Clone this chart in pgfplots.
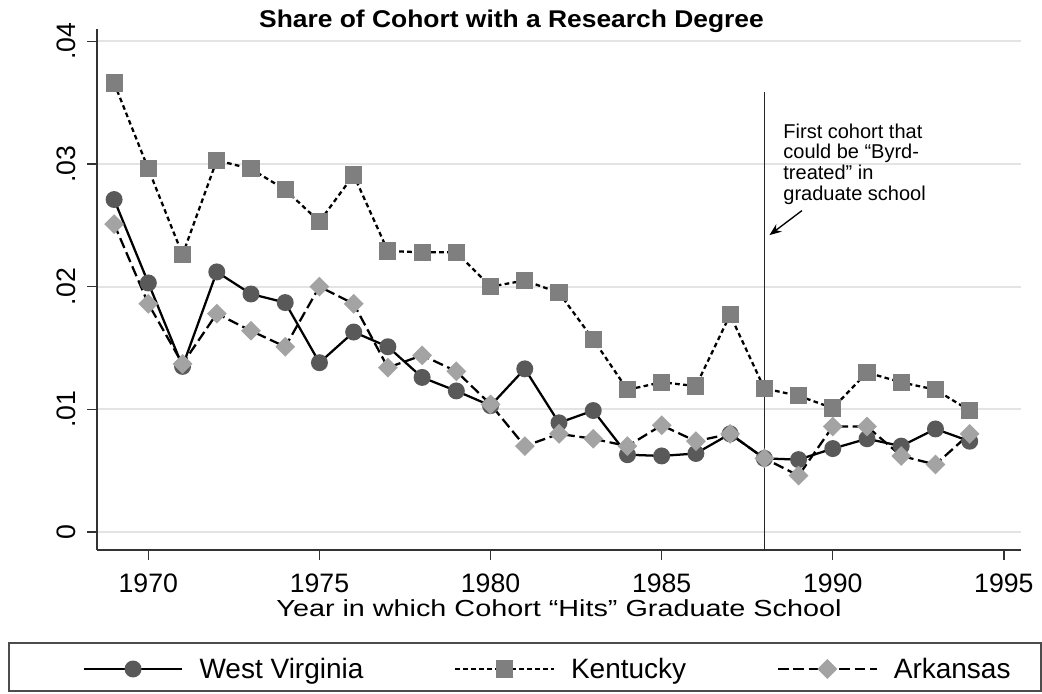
\documentclass[border=0pt]{standalone}
\usepackage{fontspec}
\setmainfont{Liberation Sans}
\usepackage{pgfplots}
\pgfplotsset{compat=1.18}
\usetikzlibrary{arrows.meta}

\definecolor{wvcol}{HTML}{595959}
\definecolor{kycol}{HTML}{7F7F7F}
\definecolor{arcol}{HTML}{A3A3A3}
\definecolor{gridcol}{HTML}{E4E4E4}

\begin{document}
\begin{tikzpicture}
\useasboundingbox (0,0) rectangle (781.5pt,519.75pt);
\begin{axis}[
    at={(72.75pt,107.25pt)}, anchor=south west,
    scale only axis, width=693pt, height=390.75pt,
    xmin=1968.5, xmax=1995.5,
    ymin=-0.001467, ymax=0.041,
    axis x line*=bottom, axis y line*=left,
    axis line style={line width=0.9pt, black!80},
    xtick={1970,1975,1980,1985,1990,1995},
    xticklabels={1970,1975,1980,1985,1990,1995},
    ytick={0,0.01,0.02,0.03,0.04},
    yticklabels={0,.01,.02,.03,.04},
    scaled y ticks=false,
    tick align=outside, major tick length=7.5pt,
    tick style={line width=0.9pt, black!80},
    ymajorgrids, grid style={gridcol, line width=1.5pt},
    xticklabel style={font=\fontsize{20}{24}\selectfont, anchor=base, inner sep=0pt, yshift=-24pt},
    yticklabel style={font=\fontsize{20}{24}\selectfont, rotate=90, anchor=base, inner sep=0pt},
    yticklabel shift=9pt,
    title={\scalebox{1.2}[1.1]{\bfseries\fontsize{16.5}{19}\selectfont Share of Cohort with a Research Degree}},
    title style={at={(axis description cs:0.4486,1.002)}, anchor=base, inner sep=0pt, yshift=-6pt},
    xlabel={\scalebox{1.3}[1.05]{Year in which Cohort “Hits” Graduate School}},
    xlabel style={at={(axis description cs:0.5,0)}, anchor=base, yshift=-49.5pt, inner sep=0pt, font=\fontsize{16.6}{19}\selectfont},
    legend columns=3,
    legend style={at={(axis description cs:0.488,-0.2284)}, anchor=center, draw=none, fill=none,
        font=\fontsize{21}{25}\selectfont,
        /tikz/every odd column/.append style={column sep=10pt},
        /tikz/every even column/.append style={column sep=66pt}},
    legend image code/.code={\draw[mark repeat=2,mark phase=2,#1] plot coordinates {(0pt,0pt) (37pt,0pt) (74pt,0pt)};},
    clip=false,
]

\addplot[black, line width=1.7pt, mark=*, mark size=5.5pt,
    mark options={solid, fill=wvcol, draw=wvcol}]
    coordinates {
    (1969,0.0271) (1970,0.0203) (1971,0.0135) (1972,0.0212) (1973,0.0194)
    (1974,0.0187) (1975,0.0138) (1976,0.0163) (1977,0.0151) (1978,0.0126)
    (1979,0.0115) (1980,0.0103) (1981,0.0133) (1982,0.0089) (1983,0.0099)
    (1984,0.0063) (1985,0.0062) (1986,0.0064) (1987,0.0080) (1988,0.0060)
    (1989,0.0059) (1990,0.0068) (1991,0.0076) (1992,0.0070) (1993,0.0084)
    (1994,0.0074)
    };
\addplot[black, line width=1.7pt, dash pattern=on 3.5pt off 2.5pt, mark=square*, mark size=5.6pt,
    mark options={solid, fill=kycol, draw=kycol}]
    coordinates {
    (1969,0.0366) (1970,0.0296) (1971,0.0226) (1972,0.0303) (1973,0.0296)
    (1974,0.0279) (1975,0.0253) (1976,0.0291) (1977,0.0229) (1978,0.0228)
    (1979,0.0228) (1980,0.0200) (1981,0.0205) (1982,0.0195) (1983,0.0157)
    (1984,0.0116) (1985,0.0122) (1986,0.0119) (1987,0.0177) (1988,0.0117)
    (1989,0.0111) (1990,0.0101) (1991,0.0130) (1992,0.0122) (1993,0.0116)
    (1994,0.0099)
    };
\addplot[black, line width=1.7pt, dash pattern=on 8pt off 3.5pt, mark=square*, mark size=4.4pt,
    mark options={solid, rotate=45, fill=arcol, draw=arcol}]
    coordinates {
    (1969,0.0251) (1970,0.0186) (1971,0.0137) (1972,0.0178) (1973,0.0164)
    (1974,0.0151) (1975,0.0200) (1976,0.0186) (1977,0.0134) (1978,0.0144)
    (1979,0.0131) (1980,0.0104) (1981,0.0070) (1982,0.0080) (1983,0.0076)
    (1984,0.0070) (1985,0.0087) (1986,0.0074) (1987,0.0080) (1988,0.0060)
    (1989,0.0046) (1990,0.0086) (1991,0.0086) (1992,0.0062) (1993,0.0055)
    (1994,0.0080)
    };
\legend{West Virginia, Kentucky, Arkansas}

\draw[black!85, line width=0.9pt] (axis cs:1988,-0.001467) -- (axis cs:1988,0.0359);
\node[anchor=north west, align=left, inner sep=0pt, font=\fontsize{15}{15.5}\selectfont]
    at (axis cs:1988.55,0.0333) {First cohort that\\could be “Byrd-\\treated” in\\graduate school};
\draw[-{Stealth[length=9pt,width=7pt]}, line width=1pt]
    (axis cs:1989.1,0.0262) -- (axis cs:1988.15,0.0242);
\end{axis}
\draw[black!70, line width=0.9pt] (6.75pt,1.5pt) rectangle (780.75pt,37.5pt);
\end{tikzpicture}
\end{document}
